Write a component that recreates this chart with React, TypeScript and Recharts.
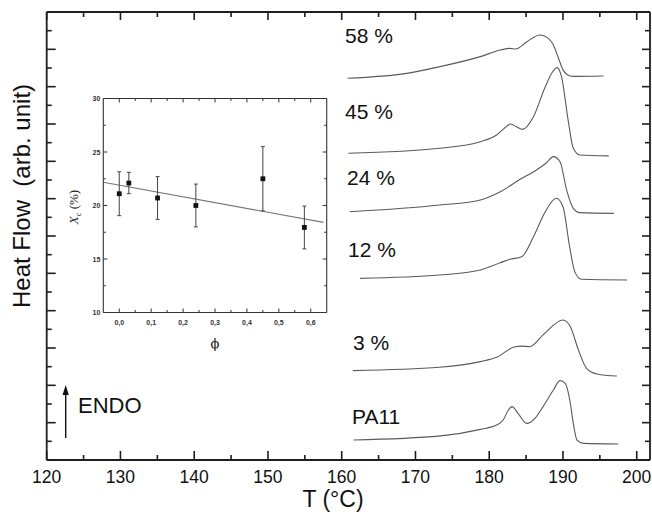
import React from 'react';
import { LineChart, Line, XAxis, YAxis, ComposedChart, Scatter, ErrorBar } from 'recharts';

// ---- main DSC traces: temperature (°C) and heat flow (arb. unit, stacked offsets)
const pa11T = [161.6, 173.4, 178.8, 181.0, 181.9, 182.6, 183.1, 183.9, 185.1, 186.2, 187.3, 188.7, 189.6, 190.3, 191.0, 191.4, 191.9, 192.8, 197.5];
const pa11Y = [1.07, 1.29, 1.64, 1.87, 2.14, 2.68, 2.86, 2.5, 1.96, 2.23, 2.86, 3.75, 4.25, 4.11, 3.04, 1.96, 1.07, 0.89, 0.86];
const p3T = [161.5, 173.3, 178.8, 181.0, 183.5, 184.4, 185.5, 187.3, 190.0, 191.0, 192.1, 193.2, 194.6, 197.3];
const p3Y = [4.79, 4.97, 5.27, 5.5, 6.07, 6.1, 6.07, 6.7, 7.5, 7.14, 5.89, 4.91, 4.61, 4.5];
const p12T = [162.5, 173.3, 178.8, 181.5, 182.8, 184.4, 186.0, 187.6, 189.1, 190.0, 190.9, 191.6, 192.5, 198.7];
const p12Y = [9.73, 9.91, 10.18, 10.57, 10.75, 10.89, 11.96, 13.3, 14.02, 13.57, 11.43, 10.09, 9.68, 9.64];
const p24T = [161.1, 173.3, 178.8, 181.5, 184.2, 186.4, 187.7, 188.7, 189.6, 190.5, 191.4, 192.3, 196.9];
const p24Y = [13.3, 13.66, 13.93, 14.37, 15.04, 15.54, 15.9, 16.25, 15.98, 14.46, 13.48, 13.25, 13.21];
const p45T = [160.9, 173.3, 178.8, 181.0, 182.0, 182.9, 183.7, 184.5, 186.0, 187.6, 188.6, 189.2, 189.8, 190.7, 191.4, 192.3, 196.2];
const p45Y = [16.43, 16.7, 17.05, 17.41, 17.75, 18.0, 17.85, 17.71, 18.39, 20.0, 20.8, 21.02, 20.54, 18.21, 16.7, 16.34, 16.29];
const p58T = [160.8, 168.8, 173.3, 178.8, 181.5, 182.8, 183.6, 185.1, 186.9, 188.0, 188.7, 189.4, 190.0, 190.6, 191.4, 195.5];
const p58Y = [20.45, 20.71, 21.07, 21.61, 21.96, 22.05, 22.02, 22.41, 22.77, 22.59, 22.23, 21.52, 20.9, 20.64, 20.55, 20.57];

const curveLabels = ['58 %', '45 %', '24 %', '12 %', '3 %', 'PA11'];

const xTicks = [120, 125, 130, 135, 140, 145, 150, 155, 160, 165, 170, 175, 180, 185, 190, 195, 200];
const yTicks = [0, 1, 2, 3, 4, 5, 6, 7, 8, 9, 10, 11, 12, 13, 14, 15, 16, 17, 18, 19, 20, 21, 22, 23, 24];

// ---- inset: crystallinity vs phi
const phi = [0, 0.03, 0.12, 0.24, 0.45, 0.58];
const xc = [21.1, 22.1, 20.7, 20.0, 22.5, 17.95];
const xcErr = [2.05, 1.0, 2.0, 2.0, 3.0, 2.0];
const fitPhi = [-0.05, 0.64];
const fitXc = [22.18, 18.42];
const insetXTicks = [0, 0.05, 0.1, 0.15, 0.2, 0.25, 0.3, 0.35, 0.4, 0.45, 0.5, 0.55, 0.6];
const insetYTicks = [10, 12.5, 15, 17.5, 20, 22.5, 25, 27.5, 30];

const zip = (t: number[], y: number[]) => t.map((v, i) => ({ T: v, y: y[i] }));
const series = [zip(p58T, p58Y), zip(p45T, p45Y), zip(p24T, p24Y), zip(p12T, p12Y), zip(p3T, p3Y), zip(pa11T, pa11Y)];
const insetData = phi.map((p, i) => ({ x: p, y: xc[i], err: xcErr[i] }));
const fitData = fitPhi.map((p, i) => ({ x: p, y: fitXc[i] }));

const FONT = '"Liberation Sans", Arial, Helvetica, sans-serif';
const FRAME = '#1e1e1e';

type Side = 'bottom' | 'top' | 'left' | 'right';
const mkTick = (
  side: Side,
  isMajor: (v: number) => boolean,
  majorLen: number,
  minorLen: number,
  color: string,
  sw: number,
  label?: (v: number) => string | null,
  lab?: { dx: number; dy: number; size: number; anchor: string; family?: string; weight?: any; fill?: string }
) => (props: any) => {
  const { x, y, payload } = props;
  const v = payload.value;
  const major = isMajor(v);
  const len = major ? majorLen : minorLen;
  let x2 = x, y2 = y;
  if (side === 'bottom') y2 = y - len;
  if (side === 'top') y2 = y + len;
  if (side === 'left') x2 = x + len;
  if (side === 'right') x2 = x - len;
  const txt = label && major ? label(v) : null;
  return (
    <g>
      <line x1={x} y1={y} x2={x2} y2={y2} stroke={color} strokeWidth={sw} />
      {txt !== null && lab ? (
        <text x={x + lab.dx} y={y + lab.dy} fontSize={lab.size} textAnchor={lab.anchor as any}
          fontFamily={lab.family || FONT} fontWeight={lab.weight || 'normal'} fill={lab.fill || '#111'}>{txt}</text>
      ) : null}
    </g>
  );
};

const mainMajX = (v: number) => v % 10 === 0;
const mainMajY = (v: number) => v % 2 === 0;
const insMajX = (v: number) => Math.round(v * 100) % 10 === 0;
const insMajY = (v: number) => v % 5 === 0;

// axes take 1px each, so margins are 1px smaller than the frame offsets
const MAIN_MARGIN = { top: 11, left: 45.7, right: 1, bottom: 51 };
const INSET_MARGIN = { top: 97.5, left: 102.3, right: 324.3, bottom: 198.5 };

export default function App() {
  return (
    <div style={{ position: 'absolute', left: 0, top: 0, width: 652, height: 512, background: '#fff' }}>
      <div style={{ position: 'absolute', left: 0, top: 0 }}>
        <LineChart width={652} height={512} margin={MAIN_MARGIN}>
          <XAxis xAxisId="b" dataKey="T" type="number" domain={[120, 201.8]} allowDataOverflow ticks={xTicks} interval={0}
            height={1} tickSize={0} tickMargin={0} tickLine={false} axisLine={{ stroke: FRAME, strokeWidth: 1.8 }}
            tick={mkTick('bottom', mainMajX, 9, 5, FRAME, 1.6, (v) => String(v), { dx: 0, dy: 23, size: 17.5, anchor: 'middle' })} />
          <XAxis xAxisId="t" orientation="top" dataKey="T" type="number" domain={[120, 201.8]} allowDataOverflow ticks={xTicks} interval={0}
            height={1} tickSize={0} tickMargin={0} tickLine={false} axisLine={{ stroke: FRAME, strokeWidth: 1.8 }}
            tick={mkTick('top', mainMajX, 8, 5, FRAME, 1.6)} />
          <YAxis yAxisId="l" type="number" domain={[0, 24]} allowDataOverflow ticks={yTicks} interval={0}
            width={1} tickSize={0} tickMargin={0} tickLine={false} axisLine={{ stroke: FRAME, strokeWidth: 1.8 }}
            tick={mkTick('left', mainMajY, 9, 5, FRAME, 1.6)} />
          <YAxis yAxisId="r" orientation="right" type="number" domain={[0, 24]} allowDataOverflow ticks={yTicks} interval={0}
            width={1} tickSize={0} tickMargin={0} tickLine={false} axisLine={{ stroke: FRAME, strokeWidth: 1.8 }}
            tick={mkTick('right', mainMajY, 8, 5, FRAME, 1.6)} />
          {series.map((d, i) => (
            <Line key={curveLabels[i]} xAxisId="b" yAxisId="l" data={d} dataKey="y" type="monotone" dot={false}
              stroke="#5a5a5a" strokeWidth={1.1} isAnimationActive={false} />
          ))}
        </LineChart>
      </div>
      <div style={{ position: 'absolute', left: 0, top: 0 }}>
        <ComposedChart width={652} height={512} margin={INSET_MARGIN}>
          <XAxis xAxisId="b" dataKey="x" type="number" domain={[-0.05, 0.65]} allowDataOverflow ticks={insetXTicks} interval={0}
            height={1} tickSize={0} tickMargin={0} tickLine={false} axisLine={{ stroke: '#333', strokeWidth: 1.1 }}
            tick={mkTick('bottom', insMajX, 4, 2.5, '#333', 1, (v) => v.toFixed(1).replace('.', ','),
              { dx: 0, dy: 12.5, size: 7, anchor: 'middle', weight: 'bold', fill: '#333' })} />
          <XAxis xAxisId="t" orientation="top" dataKey="x" type="number" domain={[-0.05, 0.65]} allowDataOverflow ticks={insetXTicks} interval={0}
            height={1} tickSize={0} tickMargin={0} tickLine={false} axisLine={{ stroke: '#333', strokeWidth: 1.1 }}
            tick={mkTick('top', insMajX, 4, 2.5, '#333', 1)} />
          <YAxis yAxisId="l" type="number" domain={[10, 30]} allowDataOverflow ticks={insetYTicks} interval={0}
            width={1} tickSize={0} tickMargin={0} tickLine={false} axisLine={{ stroke: '#333', strokeWidth: 1.1 }}
            tick={mkTick('left', insMajY, 4, 2.5, '#333', 1, (v) => String(v),
              { dx: -3, dy: 2.5, size: 7, anchor: 'end', weight: 'bold', fill: '#333' })} />
          <YAxis yAxisId="r" orientation="right" type="number" domain={[10, 30]} allowDataOverflow ticks={insetYTicks} interval={0}
            width={1} tickSize={0} tickMargin={0} tickLine={false} axisLine={{ stroke: '#333', strokeWidth: 1.1 }}
            tick={mkTick('right', insMajY, 4, 2.5, '#333', 1)} />
          <Line xAxisId="b" yAxisId="l" data={fitData} dataKey="y" type="linear" dot={false}
            stroke="#777" strokeWidth={1.1} isAnimationActive={false} />
          <Scatter xAxisId="b" yAxisId="l" data={insetData} dataKey="y" isAnimationActive={false}
            shape={(p: any) => <rect x={p.cx - 2.4} y={p.cy - 2.4} width={4.8} height={4.8} fill="#111" />}>
            <ErrorBar dataKey="err" direction="y" width={2} stroke="#444" strokeWidth={1} isAnimationActive={false} />
          </Scatter>
        </ComposedChart>
      </div>
      <svg width={652} height={512} style={{ position: 'absolute', left: 0, top: 0, pointerEvents: 'none' }}>
        <text transform="translate(30,196) rotate(-90)" textAnchor="middle" fontSize={24} fontFamily={FONT} fill="#111"
          style={{ whiteSpace: 'pre' }}>{'Heat Flow  (arb. unit)'}</text>
        <text x={333} y={507} textAnchor="middle" fontSize={23} fontFamily={FONT} fill="#111">T (°C)</text>
        <text x={78} y={413} fontSize={22} fontFamily={FONT} fill="#111">ENDO</text>
        <line x1={65.7} y1={438} x2={65.7} y2={393} stroke="#111" strokeWidth={1.4} />
        <polygon points="65.7,385 62.6,395 68.8,395" fill="#111" />
        <text x={345} y={43} fontSize={21} fontFamily={FONT} fill="#111">{curveLabels[0]}</text>
        <text x={345} y={119} fontSize={21} fontFamily={FONT} fill="#111">{curveLabels[1]}</text>
        <text x={347} y={185} fontSize={21} fontFamily={FONT} fill="#111">{curveLabels[2]}</text>
        <text x={348} y={257} fontSize={21} fontFamily={FONT} fill="#111">{curveLabels[3]}</text>
        <text x={353} y={350} fontSize={21} fontFamily={FONT} fill="#111">{curveLabels[4]}</text>
        <text x={352} y={424} fontSize={21} fontFamily={FONT} fill="#111">{curveLabels[5]}</text>
        <text x={215} y={348} textAnchor="middle" fontSize={13} fontFamily="'DejaVu Serif', serif" fill="#222">ϕ</text>
        <text transform="translate(78,207) rotate(-90)" textAnchor="middle" fontSize={13} fontFamily="'Liberation Serif', serif" fill="#222">
          <tspan fontStyle="italic">X</tspan><tspan fontSize={8} dy={2.5}>c</tspan><tspan dy={-2.5}>{' (%)'}</tspan>
        </text>
      </svg>
    </div>
  );
}
